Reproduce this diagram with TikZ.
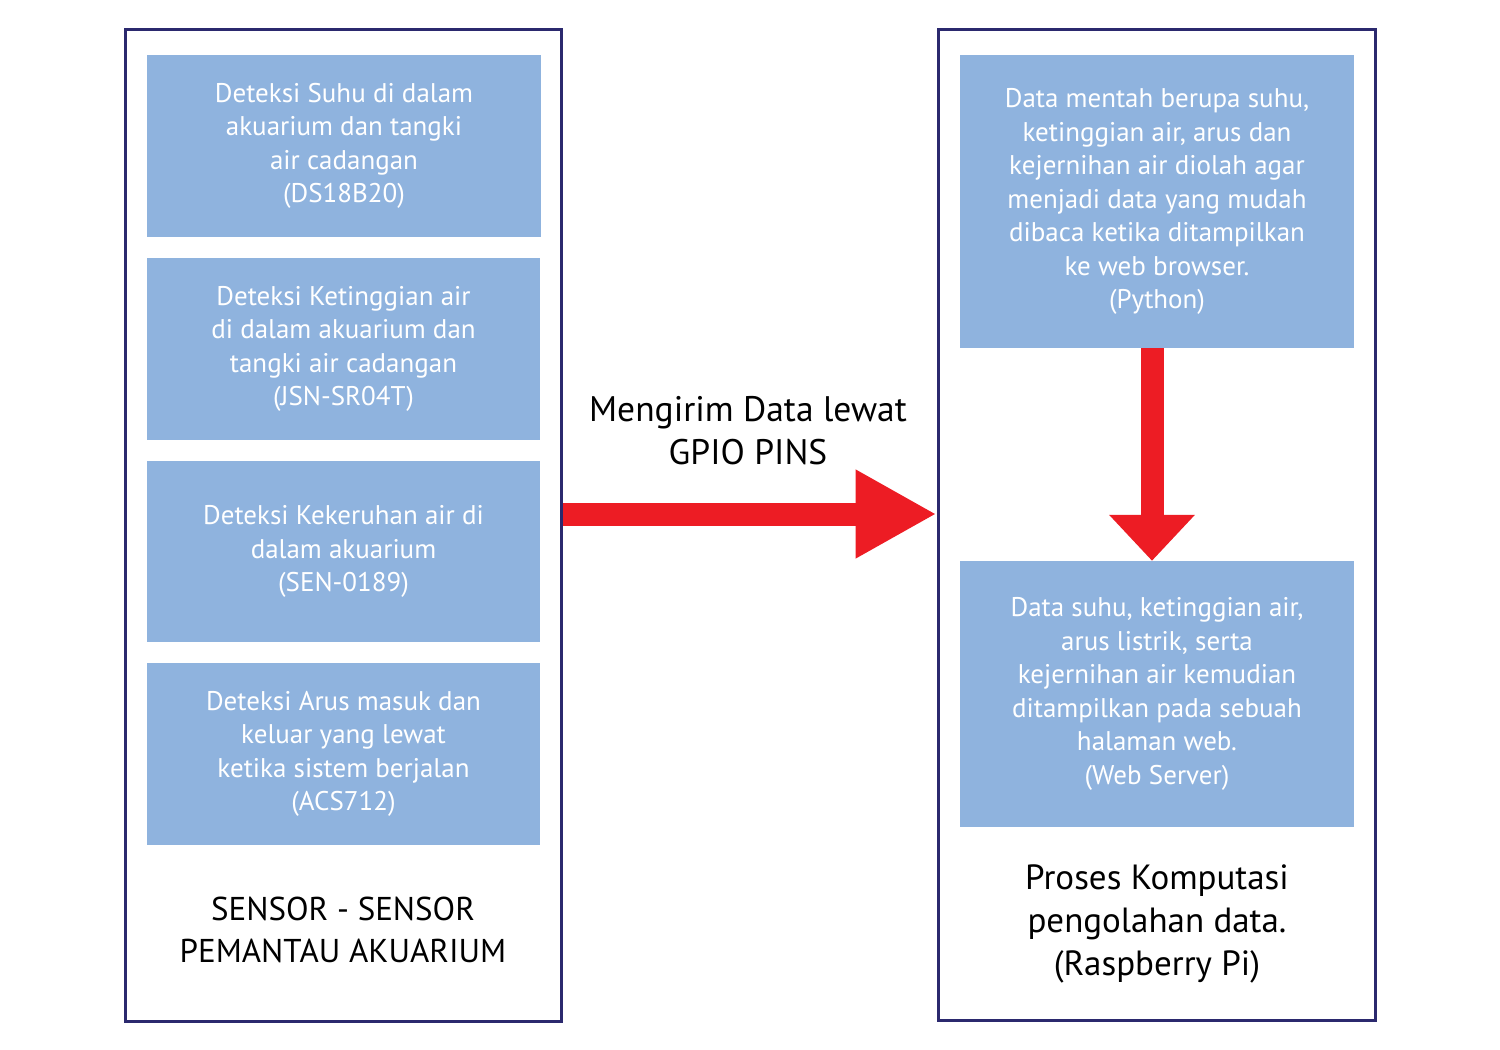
\documentclass[tikz,border=0pt]{standalone}
\usepackage{fontspec}
\setmainfont{PT Sans}
\usetikzlibrary{arrows.meta}
\definecolor{boxblue}{RGB}{143,179,222}
\definecolor{navy}{RGB}{43,41,110}
\definecolor{arrred}{RGB}{237,28,36}
\tikzset{
  outerbox/.style={draw=navy, line width=3pt, fill=white, inner sep=0pt},
  sensorbox/.style={fill=boxblue, text=white, align=center, inner sep=0pt,
    font=\fontsize{27}{33.5}\selectfont},
  caption/.style={align=center, font=\fontsize{33}{41.5}\selectfont},
  fatarrow/.style={draw=arrred, line width=23pt,
    -{Triangle[length=81pt,width=83pt]}},
  downarrow/.style={draw=arrred, line width=23pt,
    -{Triangle[length=46pt,width=83pt]}},
}
\begin{document}
\begin{tikzpicture}[x=1pt,y=-1pt]
\useasboundingbox (0,0) rectangle (1500,1050);
% outer boxes
\node[outerbox, minimum width=436pt, minimum height=992pt] (L) at (343,525) {};
\node[outerbox, minimum width=437pt, minimum height=991pt] (R) at (1156.5,524.5) {};
% left inner boxes
\node[sensorbox, minimum width=394pt, minimum height=182pt] (s1) at (344,146)
  {Deteksi Suhu di dalam\\akuarium dan tangki\\air cadangan\\(DS18B20)};
\node[sensorbox, minimum width=393pt, minimum height=182pt] (s2) at (343.5,349)
  {Deteksi Ketinggian air\\di dalam akuarium dan\\tangki air cadangan\\(JSN-SR04T)};
\node[sensorbox, minimum width=393pt, minimum height=181pt] (s3) at (343.5,551.5)
  {Deteksi Kekeruhan air di\\dalam akuarium\\(SEN-0189)};
\node[sensorbox, minimum width=393pt, minimum height=182pt] (s4) at (343.5,754)
  {Deteksi Arus masuk dan\\keluar yang lewat\\ketika sistem berjalan\\(ACS712)};
\node[caption] (lcap) at (343,930) {SENSOR - SENSOR\\PEMANTAU AKUARIUM};
% right inner boxes
\node[sensorbox, minimum width=394pt, minimum height=293pt] (p1) at (1157,201.5)
  {Data mentah berupa suhu,\\ketinggian air, arus dan\\kejernihan air diolah agar\\menjadi data yang mudah\\dibaca ketika ditampilkan\\ke web browser.\\(Python)};
\node[sensorbox, minimum width=394pt, minimum height=266pt] (p2) at (1157,694)
  {Data suhu, ketinggian air,\\arus listrik, serta\\kejernihan air kemudian\\ditampilkan pada sebuah\\halaman web.\\(Web Server)};
\node[caption, font=\fontsize{35}{43}\selectfont] (rcap) at (1157,924) {Proses Komputasi\\pengolahan data.\\(Raspberry Pi)};
% arrows
\coordinate (ay) at (0,514);
\node[caption, font=\fontsize{35.5}{43}\selectfont] (alabel) at (748,431) {Mengirim Data lewat\\GPIO PINS};
\draw[fatarrow] (L.east |- ay) -- (R.west |- ay);
\coordinate (ax) at (1152,0);
\draw[downarrow] (p1.south -| ax) -- (p2.north -| ax);
\end{tikzpicture}
\end{document}
